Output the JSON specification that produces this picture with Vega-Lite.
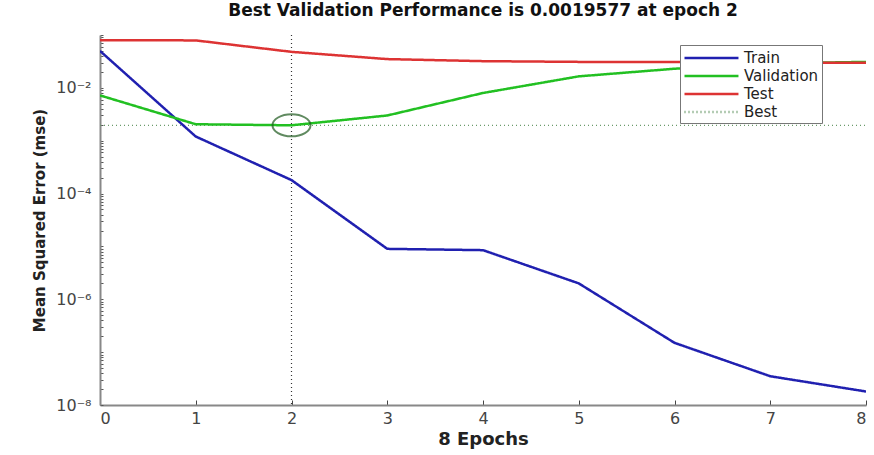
{
  "$schema": "https://vega.github.io/schema/vega-lite/v6.json",
  "width": 766,
  "height": 370,
  "autosize": {"type": "none"},
  "padding": {"left": 100, "top": 35, "right": 8, "bottom": 50},
  "background": "white",
  "title": {
    "text": "Best Validation Performance is 0.0019577 at epoch 2",
    "font": "DejaVu Sans",
    "fontSize": 17,
    "fontWeight": "bold",
    "color": "#111",
    "offset": 7,
    "anchor": "middle"
  },
  "config": {
    "view": {"stroke": null},
    "font": "DejaVu Sans"
  },
  "datasets": {
    "perf": [
      {"epoch": 0, "mse": 0.05, "series": "Train"},
      {"epoch": 1, "mse": 0.0012, "series": "Train"},
      {"epoch": 2, "mse": 0.00018, "series": "Train"},
      {"epoch": 3, "mse": 0.000009, "series": "Train"},
      {"epoch": 4, "mse": 0.0000085, "series": "Train"},
      {"epoch": 5, "mse": 0.000002, "series": "Train"},
      {"epoch": 6, "mse": 0.00000015, "series": "Train"},
      {"epoch": 7, "mse": 0.000000035, "series": "Train"},
      {"epoch": 8, "mse": 0.000000018, "series": "Train"},
      {"epoch": 0, "mse": 0.0072, "series": "Validation"},
      {"epoch": 1, "mse": 0.00205, "series": "Validation"},
      {"epoch": 2, "mse": 0.0019577, "series": "Validation"},
      {"epoch": 3, "mse": 0.003, "series": "Validation"},
      {"epoch": 4, "mse": 0.008, "series": "Validation"},
      {"epoch": 5, "mse": 0.0165, "series": "Validation"},
      {"epoch": 6, "mse": 0.023, "series": "Validation"},
      {"epoch": 7, "mse": 0.029, "series": "Validation"},
      {"epoch": 8, "mse": 0.031, "series": "Validation"},
      {"epoch": 0, "mse": 0.08, "series": "Test"},
      {"epoch": 1, "mse": 0.079, "series": "Test"},
      {"epoch": 2, "mse": 0.048, "series": "Test"},
      {"epoch": 3, "mse": 0.035, "series": "Test"},
      {"epoch": 4, "mse": 0.032, "series": "Test"},
      {"epoch": 5, "mse": 0.031, "series": "Test"},
      {"epoch": 6, "mse": 0.031, "series": "Test"},
      {"epoch": 7, "mse": 0.03, "series": "Test"},
      {"epoch": 8, "mse": 0.03, "series": "Test"}
    ],
    "bestline": [
      {"epoch": 0, "mse": 0.0019577, "series": "Best"},
      {"epoch": 8, "mse": 0.0019577, "series": "Best"}
    ],
    "best": [{"epoch": 2, "mse": 0.0019577}]
  },
  "layer": [
    {
      "data": {"name": "best"},
      "mark": {"type": "rule", "color": "#333", "strokeDash": [1, 3], "strokeWidth": 1.2},
      "encoding": {
        "x": {"field": "epoch", "type": "quantitative"}
      }
    },
    {
      "data": {"name": "bestline"},
      "mark": {"type": "line", "strokeWidth": 1.3},
      "encoding": {
        "x": {"field": "epoch", "type": "quantitative"},
        "y": {"field": "mse", "type": "quantitative"},
        "color": {"field": "series", "type": "nominal"},
        "strokeDash": {"field": "series", "type": "nominal"}
      }
    },
    {
      "data": {"name": "perf"},
      "mark": {"type": "line", "strokeWidth": 2.5, "clip": true},
      "encoding": {
        "x": {
          "field": "epoch",
          "type": "quantitative",
          "scale": {"domain": [0, 8], "nice": false, "zero": false},
          "axis": {
            "values": [0, 1, 2, 3, 4, 5, 6, 7, 8],
            "format": "d",
            "title": "8 Epochs",
            "titleFont": "DejaVu Sans",
            "titleFontSize": 18,
            "titleFontWeight": "bold",
            "titleColor": "#222",
            "titlePadding": 4,
            "labelFontSize": 16,
            "labelColor": "#444",
            "labelPadding": 10,
            "tickSize": -5,
            "tickColor": "#444",
            "domainColor": "#888",
            "domainWidth": 2,
            "grid": false
          }
        },
        "y": {
          "field": "mse",
          "type": "quantitative",
          "scale": {"type": "log", "domain": [1e-8, 0.1], "nice": false},
          "axis": {
            "values": [1e-8, 2e-8, 3e-8, 4e-8, 5e-8, 6e-8, 7e-8, 8e-8, 9e-8,
                       1e-7, 2e-7, 3e-7, 4e-7, 5e-7, 6e-7, 7e-7, 8e-7, 9e-7,
                       1e-6, 2e-6, 3e-6, 4e-6, 5e-6, 6e-6, 7e-6, 8e-6, 9e-6,
                       1e-5, 2e-5, 3e-5, 4e-5, 5e-5, 6e-5, 7e-5, 8e-5, 9e-5,
                       1e-4, 2e-4, 3e-4, 4e-4, 5e-4, 6e-4, 7e-4, 8e-4, 9e-4,
                       1e-3, 2e-3, 3e-3, 4e-3, 5e-3, 6e-3, 7e-3, 8e-3, 9e-3,
                       1e-2, 2e-2, 3e-2, 4e-2, 5e-2, 6e-2, 7e-2, 8e-2, 9e-2, 0.1],
            "labelExpr": "round(log(datum.value)/LN10*1000)/1000 == -2 ? '10⁻²' : (round(log(datum.value)/LN10*1000)/1000 == -4 ? '10⁻⁴' : (round(log(datum.value)/LN10*1000)/1000 == -6 ? '10⁻⁶' : (round(log(datum.value)/LN10*1000)/1000 == -8 ? '10⁻⁸' : '')))",
            "labelFont": "DejaVu Sans",
            "labelFontSize": 16,
            "labelColor": "#444",
            "labelPadding": 12,
            "labelOverlap": false,
            "tickSize": -3,
            "tickColor": "#555",
            "domainColor": "#888",
            "domainWidth": 2,
            "grid": false,
            "title": "Mean Squared Error  (mse)",
            "titleFont": "DejaVu Sans",
            "titleFontSize": 15,
            "titleFontWeight": "bold",
            "titleColor": "#222",
            "titlePadding": 8
          }
        },
        "color": {
          "field": "series",
          "type": "nominal",
          "sort": ["Train", "Validation", "Test", "Best"],
          "scale": {"domain": ["Train", "Validation", "Test", "Best"], "range": ["#2020b0", "#22c022", "#dd3333", "#6a9a6a"]},
          "legend": {
            "orient": "none",
            "legendX": 580,
            "legendY": 10,
            "title": null,
            "symbolType": "M-1,0H5.35",
            "symbolSize": 289,
            "symbolStrokeWidth": 2.5,
            "labelFont": "DejaVu Sans",
            "labelFontSize": 15,
            "labelColor": "#222",
            "fillColor": "white",
            "strokeColor": "#777",
            "padding": 3,
            "rowPadding": 0,
            "labelOffset": 41
          }
        },
        "strokeDash": {
          "field": "series",
          "type": "nominal",
          "sort": ["Train", "Validation", "Test", "Best"],
          "scale": {"domain": ["Train", "Validation", "Test", "Best"], "range": [[1, 0], [1, 0], [1, 0], [1, 3]]}
        }
      }
    },
    {
      "data": {"name": "best"},
      "mark": {
        "type": "point",
        "shape": "M-1,0A1,0.58,0,1,0,1,0A1,0.58,0,1,0,-1,0Z",
        "size": 1444,
        "filled": false,
        "color": "#1e5a1e",
        "strokeWidth": 2
      },
      "encoding": {
        "x": {"field": "epoch", "type": "quantitative"},
        "y": {"field": "mse", "type": "quantitative"}
      }
    }
  ]
}
